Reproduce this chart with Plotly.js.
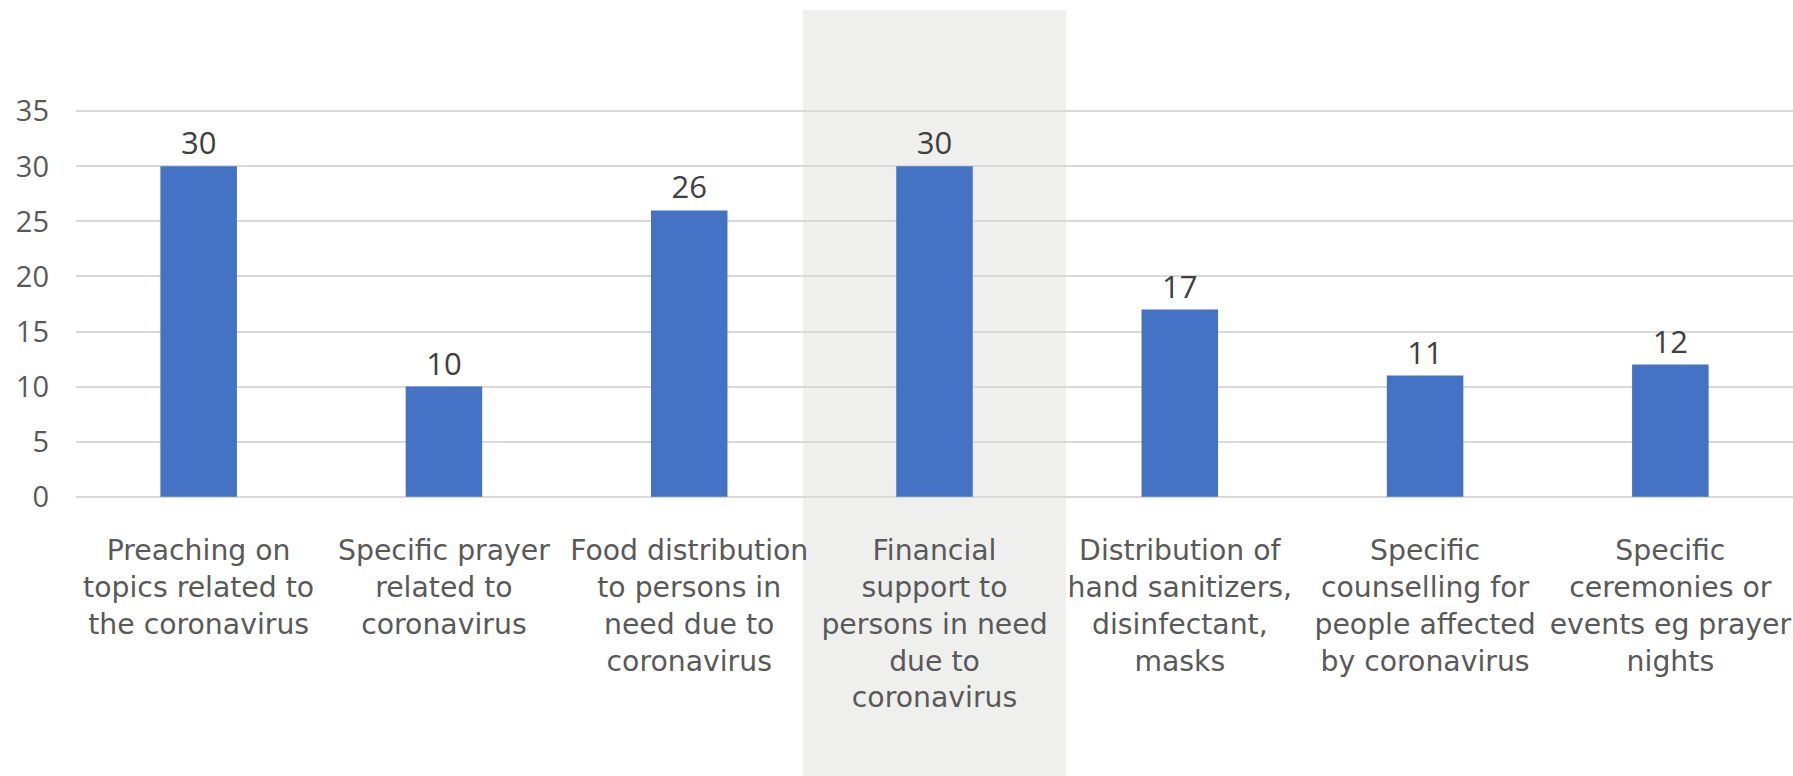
<!DOCTYPE html>
<html>
<head>
<meta charset="utf-8">
<script src="https://cdn.plot.ly/plotly-3.0.1.min.js"></script>
<style>
html, body { margin: 0; padding: 0; background: #ffffff; }
#chart { width: 1793px; height: 776px; }
</style>
</head>
<body>
<div id="chart"></div>
<script>
const categories = [
  "Preaching on<br>topics related to<br>the coronavirus",
  "Specific prayer<br>related to<br>coronavirus",
  "Food distribution<br>to persons in<br>need due to<br>coronavirus",
  "Financial<br>support to<br>persons in need<br>due to<br>coronavirus",
  "Distribution of<br>hand sanitizers,<br>disinfectant,<br>masks",
  "Specific<br>counselling for<br>people affected<br>by coronavirus",
  "Specific<br>ceremonies or<br>events eg prayer<br>nights"
];
const values = [30, 10, 26, 30, 17, 11, 12];
const yTicks = [0, 5, 10, 15, 20, 25, 30, 35];
const highlightIndex = 3;

const trace = {
  type: 'bar',
  x: categories,
  y: values,
  marker: { color: '#4472C4' },
  text: values.map(String),
  textposition: 'outside',
  cliponaxis: false,
  textfont: { family: 'Open Sans, Noto Sans, sans-serif', size: 31, color: '#404040' },
  hoverinfo: 'none'
};

const layout = {
  width: 1793,
  height: 776,
  margin: { l: 76, r: 0, t: 108, b: 276 },
  paper_bgcolor: '#ffffff',
  plot_bgcolor: 'rgba(0,0,0,0)',
  bargap: 0.688,
  showlegend: false,
  xaxis: {
    type: 'category',
    tickfont: { family: 'DejaVu Sans, sans-serif', size: 28.3, color: '#595959' },
    showgrid: false,
    zeroline: false,
    showline: false,
    ticks: '',
    ticklabelstandoff: 31,
    fixedrange: true
  },
  yaxis: {
    range: [-0.3, 35.3],
    tickvals: yTicks,
    ticktext: yTicks.map(String),
    tickfont: { family: 'Open Sans, Noto Sans, sans-serif', size: 29, color: '#595959' },
    showgrid: true,
    gridcolor: '#d9d9d9',
    gridwidth: 2,
    zeroline: false,
    showline: false,
    ticks: '',
    ticklabelstandoff: 26,
    fixedrange: true
  },
  shapes: [{
    type: 'rect',
    xref: 'x',
    yref: 'paper',
    x0: highlightIndex - 0.536,
    x1: highlightIndex + 0.536,
    y0: -1.0,
    y1: 1.25,
    fillcolor: '#efefed',
    line: { width: 0 },
    layer: 'below'
  }]
};

Plotly.newPlot('chart', [trace], layout, { displayModeBar: false, staticPlot: true });
</script>
</body>
</html>
